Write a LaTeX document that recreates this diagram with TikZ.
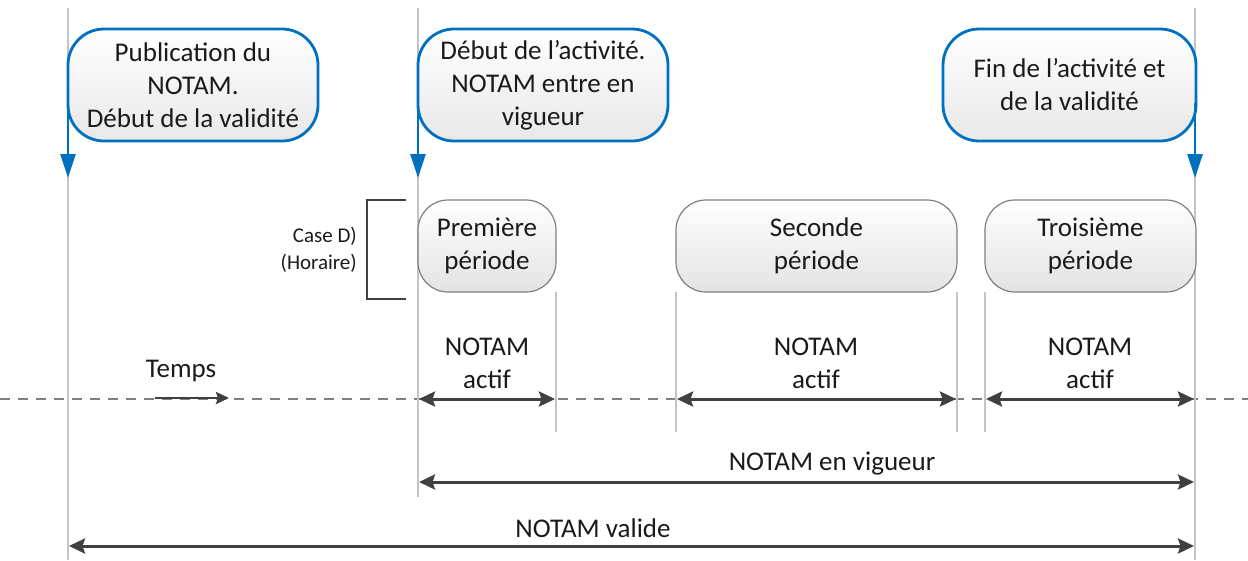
\documentclass[tikz,border=0pt]{standalone}
\usepackage{fontspec}
\setmainfont{Carlito}
\usetikzlibrary{arrows.meta,calc}
\definecolor{callblue}{HTML}{0070C0}
\definecolor{darkline}{HTML}{404040}
\definecolor{guide}{HTML}{C4C4C4}
\definecolor{textc}{HTML}{1A1A1A}
\definecolor{boxedge}{HTML}{7F7F7F}
\begin{document}
\begin{tikzpicture}[x=1pt,y=-1pt,
  every node/.style={text=textc},
  bigtext/.style={font=\fontsize{27}{33}\selectfont},
  callout/.style={bigtext, draw=callblue, line width=2.8pt, rounded corners=36pt,
    top color=white, bottom color=black!9, minimum height=112pt,
    align=center, inner sep=0pt, outer sep=0pt},
  period/.style={bigtext, draw=boxedge, line width=1.2pt, rounded corners=30pt,
    top color=white, bottom color=black!11, minimum height=92pt,
    align=center, inner sep=0pt, outer sep=0pt},
  guideline/.style={draw=guide, line width=1.8pt},
  tick/.style={draw=guide, line width=1.1pt},
  bluearrow/.style={draw=callblue, line width=2.8pt, -{Triangle[length=24pt,width=15pt]}},
  span/.style={draw=darkline, line width=3pt,
    {Stealth[length=16pt,width=15pt,inset=2.5pt]}-{Stealth[length=16pt,width=15pt,inset=2.5pt]}},
  lbl/.style={bigtext, align=center, inner sep=0pt},
]
\useasboundingbox (0,0) rectangle (1248,560);

% time axis
\coordinate (axL) at (0,399);
\coordinate (axR) at (1248,399);
\draw[draw=boxedge, line width=1.4pt, dash pattern=on 10pt off 8pt] (axL) -- (axR);

% main event guides
\coordinate (g0t) at (68,8);    \coordinate (g0b) at (68,560);
\coordinate (g1t) at (418,8);   \coordinate (g1b) at (418,497);
\coordinate (g2t) at (1195,8);  \coordinate (g2b) at (1195,560);
\draw[guideline] (g0t) -- (g0b);
\draw[guideline] (g1t) -- (g1b);
\draw[guideline] (g2t) -- (g2b);

% period boundaries
\coordinate (p1r) at (556,432);
\coordinate (p2l) at (676,432);
\coordinate (p2r) at (957,432);
\coordinate (p3l) at (985,432);

% event callouts
\node[callout, minimum width=250pt] (pub) at (193,85)
  {Publication du\\NOTAM.\\Début de la validité};
\node[callout, minimum width=250pt] (deb) at (543,85)
  {Début de l’activité.\\NOTAM entre en\\vigueur};
\node[callout, minimum width=253pt] (fin) at (1069.5,85)
  {Fin de l’activité et\\de la validité};

\coordinate (pubtip) at (68,178);
\coordinate (debtip) at (418,178);
\coordinate (fintip) at (1195,178);
\draw[bluearrow] ($(pub.south west)+(0,-38)$) -- (pubtip);
\draw[bluearrow] ($(deb.south west)+(0,-38)$) -- (debtip);
\draw[bluearrow] ($(fin.south east)+(-1,-38)$) -- (fintip);

% activity periods
\node[period, minimum width=138pt] (per1) at (487,246) {Première\\période};
\node[period, minimum width=281pt] (per2) at (816.5,246) {Seconde\\période};
\node[period, minimum width=211pt] (per3) at (1090.5,246) {Troisième\\période};

\draw[tick] (per1.south east) -- (p1r);
\draw[tick] (per2.south west) -- (p2l);
\draw[tick] (per2.south east) -- (p2r);
\draw[tick] (per3.south west) -- (p3l);

% schedule bracket
\coordinate (brt) at (406,200);
\coordinate (brb) at (406,299);
\draw[draw=darkline, line width=2.4pt] (brt) -- (367,200) -- (367,299) -- (brb);
\node[font=\fontsize{21}{27}\selectfont, align=right, anchor=east, inner sep=0pt]
  (caseD) at (357,249.5) {Case D)\\(Horaire)};

% time direction
\node[lbl] (temps) at (181,371) {Temps};
\coordinate (tA) at (155,398);
\coordinate (tB) at (229,398);
\draw[draw=darkline, line width=2.6pt, -{Stealth[length=13pt,width=12pt,inset=2pt]}] (tA) -- (tB);

% active intervals
\coordinate (a1l) at (419,399); \coordinate (a1r) at (555,399);
\coordinate (a2l) at (677,399); \coordinate (a2r) at (956,399);
\coordinate (a3l) at (986,399); \coordinate (a3r) at (1194,399);
\draw[span] (a1l) -- (a1r);
\draw[span] (a2l) -- (a2r);
\draw[span] (a3l) -- (a3r);
\node[lbl] (act1) at (487,363) {NOTAM\\actif};
\node[lbl] (act2) at (816,363) {NOTAM\\actif};
\node[lbl] (act3) at (1090,363) {NOTAM\\actif};

% in force / valid
\coordinate (vgl) at (419,482); \coordinate (vgr) at (1194,482);
\draw[span] (vgl) -- (vgr);
\node[lbl] (vig) at (832,464) {NOTAM en vigueur};
\coordinate (vll) at (69,546); \coordinate (vlr) at (1194,546);
\draw[span] (vll) -- (vlr);
\node[lbl] (val) at (593,528) {NOTAM valide};
\end{tikzpicture}
\end{document}
